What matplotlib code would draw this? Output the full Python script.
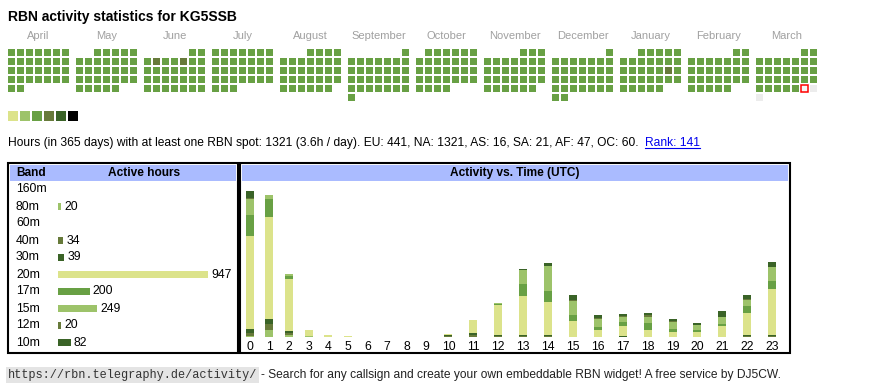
import pandas as pd
import matplotlib.pyplot as plt
from matplotlib.patches import Rectangle

W, H = 870, 390

callsign = "KG5SSB"
month_names = ["April", "May", "June", "July", "August", "September", "October",
               "November", "December", "January", "February", "March"]
first_day = pd.Timestamp("2024-04-01")
today = pd.Timestamp("2025-03-29")

# activity level per day (index into legend colours + 1), one string per month
month_levels = [
    "3333333333" "3333333333" "3333333333",
    "3333333333" "3333333333" "3333333333" "3",
    "3334334333" "3333333333" "3333333333",
    "3333333333" "3333333333" "3333333333" "3",
    "3333333333" "3333333333" "3333333333" "3",
    "3333333333" "3333333333" "3333333333",
    "3333333333" "3333333333" "3333333333" "3",
    "3333333333" "3333333333" "3333333333",
    "3333333333" "3333333333" "3333333333" "3",
    "3333333333" "3333333433" "3333333333" "3",
    "3333333333" "3333333333" "33333333",
    "3333333333" "3333333333" "33333333",
]
legend_colors = ["#dce38b", "#9dc36a", "#68a044", "#677a3a", "#3a6327", "#000000"]

# summary line
days_span = 365
active_hours = 1321
regions = ["EU", "NA", "AS", "SA", "AF", "OC"]
region_hours = [441, 1321, 16, 21, 47, 60]
rank = 141

# band table
bands = ["160m", "80m", "60m", "40m", "30m", "20m", "17m", "15m", "12m", "10m"]
band_hours = [0, 20, 0, 34, 39, 947, 200, 249, 20, 82]
band_colors = ["#dce38b", "#9dc36a", "#68a044", "#677a3a", "#3a6327",
               "#dce38b", "#68a044", "#9dc36a", "#677a3a", "#3a6327"]

# activity per UTC hour and band (stacked bottom -> top in band order)
hours = list(range(24))
hourly = {
    "80m": [2, 14, 3, 1, 0, 0, 0, 0, 0, 0, 0, 0, 0, 0, 0, 0, 0, 0, 0, 0, 0, 0, 0, 0],
    "40m": [5, 10, 5, 0, 0, 0, 0, 0, 0, 0, 1, 3, 2, 2, 2, 0, 0, 0, 0, 0, 0, 0, 2, 2],
    "30m": [9, 9, 3, 0, 0, 0, 0, 0, 0, 0, 2, 4, 2, 2, 2, 0, 0, 2, 0, 0, 0, 0, 2, 2],
    "20m": [175, 193, 98, 12, 4, 2, 0, 0, 0, 0, 2, 25, 56, 73, 62, 31, 14, 18, 14, 10, 10, 20, 42, 86],
    "17m": [39, 33, 5, 0, 0, 0, 0, 0, 0, 0, 0, 0, 3, 23, 21, 10, 4, 8, 12, 6, 4, 4, 12, 16],
    "15m": [30, 9, 4, 0, 0, 0, 0, 0, 0, 0, 0, 0, 1, 26, 46, 26, 15, 9, 11, 13, 9, 13, 11, 26],
    "12m": [2, 0, 0, 0, 0, 0, 0, 0, 0, 0, 0, 0, 0, 0, 1, 2, 3, 3, 4, 1, 0, 1, 3, 0],
    "10m": [13, 0, 0, 0, 0, 0, 0, 0, 0, 0, 0, 0, 0, 2, 6, 10, 6, 4, 4, 4, 4, 11, 8, 10],
}

plt.rcParams["font.family"] = ["Liberation Sans", "DejaVu Sans"]


def box(x0, y0, x1, y1):
    # pixel box (top-left origin) -> figure fraction rect
    return [x0 / W, 1 - y1 / H, (x1 - x0) / W, (y1 - y0) / H]


fig = plt.figure(figsize=(W / 100, H / 100), dpi=100)
bg = fig.add_axes([0, 0, 1, 1])
bg.set_xlim(0, W)
bg.set_ylim(H, 0)
bg.axis("off")

bg.text(8, 17, f"RBN activity statistics for {callsign}", fontsize=10,
        fontweight="bold", va="center", ha="left")

# calendar
pitch = 9
month_step = 68 / pitch
cal = fig.add_axes(box(8, 49, 8 + 90 * pitch, 49 + 6 * pitch))
cal.set_xlim(0, 90)
cal.set_ylim(6, 0)
cal.axis("off")
cell = 7 / pitch
for m, name in enumerate(month_names):
    start = first_day + pd.DateOffset(months=m)
    levels = month_levels[m]
    cal.text(m * month_step + 3.5 - (1 - cell) / 2, -1.1, name, ha="center",
             va="baseline", fontsize=8, color="#a0a0a0", clip_on=False)
    for d in range(start.days_in_month):
        date = start + pd.Timedelta(days=d)
        x = m * month_step + date.weekday()
        y = (d + start.weekday()) // 7
        if d < len(levels):
            cal.add_patch(Rectangle((x, y), cell, cell, lw=0,
                                    facecolor=legend_colors[int(levels[d]) - 1]))
        elif date == today:
            cal.add_patch(Rectangle((x, y), cell, cell, lw=1.1,
                                    facecolor="#f6f6f6", edgecolor="red"))
        else:
            cal.add_patch(Rectangle((x, y), cell, cell, lw=0, facecolor="#ececec"))

for i, c in enumerate(legend_colors):
    bg.add_patch(Rectangle((8 + 12 * i, 111), 10, 10, lw=0, facecolor=c))

# summary line
summary = (f"Hours (in {days_span} days) with at least one RBN spot: {active_hours} "
           f"({active_hours / days_span:.1f}h / day). "
           + ", ".join(f"{r}: {v}" for r, v in zip(regions, region_hours)) + ".")
t_sum = bg.text(8, 146, summary, fontsize=8.65, va="baseline")

# frames
bg.add_patch(Rectangle((8, 163), 230, 190, fill=False, lw=1.5, edgecolor="black"))
bg.add_patch(Rectangle((240, 163), 550, 190, fill=False, lw=1.5, edgecolor="black"))
bg.add_patch(Rectangle((10, 165), 226, 16, lw=0, facecolor="#aabbff"))
bg.add_patch(Rectangle((242, 165), 546, 16, lw=0, facecolor="#aabbff"))
bg.text(16, 173, "Band", fontsize=8.6, fontweight="bold", va="center")
bg.text(144, 173, "Active hours", fontsize=8.6, fontweight="bold", va="center", ha="center")
bg.text(515, 173, "Activity vs. Time (UTC)", fontsize=8.6, fontweight="bold",
        va="center", ha="center")

# band bars
bx = fig.add_axes(box(58, 181, 236, 351))
bx.barh(range(len(bands)), band_hours, height=7 / 17, color=band_colors)
bx.set_ylim(len(bands) - 0.5, -0.5)
bx.set_xlim(0, max(band_hours) * 178 / 150)
bx.axis("off")
for i, (b, v) in enumerate(zip(bands, band_hours)):
    bx.annotate(b, xy=(0, i), xycoords=("axes fraction", "data"), xytext=(-42, 0),
                textcoords="offset pixels", va="center", fontsize=8.8,
                annotation_clip=False)
    if v:
        bx.annotate(str(v), xy=(v, i), xytext=(3, 0), textcoords="offset pixels",
                    va="center", fontsize=8.8, annotation_clip=False)

# activity vs time
col_w = [19.6 if h < 10 else 24.9 for h in hours]
centers = []
acc = 0
for w in col_w:
    centers.append(acc + w / 2)
    acc += w
ax = fig.add_axes(box(240, 181, 788, 337))
bottom = [0] * 24
for b, c in zip(bands, band_colors):
    if b not in hourly:
        continue
    vals = hourly[b]
    ax.bar(centers, vals, width=8, bottom=bottom, color=c, lw=0)
    bottom = [p + q for p, q in zip(bottom, vals)]
ax.set_xlim(0, 548)
ax.set_ylim(0, max(bottom) * 156 / 146)
ax.set_xticks(centers, [str(h) for h in hours], fontsize=8.8)
ax.tick_params(axis="x", length=0, pad=3)
ax.set_yticks([])
for s in ax.spines.values():
    s.set_visible(False)
ax.patch.set_alpha(0)

# footer
t_url = bg.text(8, 378, "https://rbn.telegraphy.de/activity/", family="Liberation Mono",
                fontsize=8.6, color="#333333", va="baseline",
                bbox=dict(boxstyle="square,pad=0.15", facecolor="#e4e4e4", lw=0))

fig.canvas.draw()
r = fig.canvas.get_renderer()
e = t_sum.get_window_extent(r)
t_rank = bg.text(e.x1 + 6, 146, f"Rank: {rank}", fontsize=8.65, va="baseline", color="#0000ee")
e2 = t_rank.get_window_extent(r)
bg.plot([e2.x0, e2.x1], [148, 148], color="#0000ee", lw=0.8)
e3 = t_url.get_window_extent(r)
bg.text(e3.x1 + 4, 378, "- Search for any callsign and create your own embeddable RBN "
        "widget! A free service by DJ5CW.", fontsize=8.65, va="baseline", color="#222222")

fig.savefig("out.png", dpi=100)
